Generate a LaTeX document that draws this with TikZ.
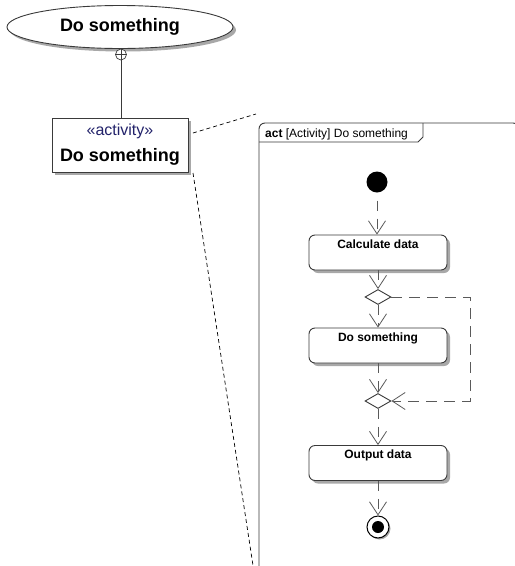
\documentclass[tikz,border=0pt]{standalone}
\usepackage{fontspec}
\setmainfont{Liberation Sans}
\usetikzlibrary{shapes.geometric,arrows.meta,shadows}
\definecolor{edge}{HTML}{3A3A3A}
\definecolor{conn}{HTML}{5A5A5A}
\definecolor{stereo}{HTML}{22226A}
\definecolor{shadowgray}{HTML}{A8A8A8}
\tikzset{
  shade/.style={drop shadow={shadow xshift=3pt,shadow yshift=-3pt,fill=shadowgray,opacity=1}},
  usecase/.style={ellipse, draw=edge, line width=0.9pt, fill=white, shade,
    minimum width=226pt, minimum height=43pt, inner sep=0pt,
    font=\fontsize{18}{20}\selectfont\bfseries},
  classbox/.style={rectangle, draw=edge, line width=1pt, fill=white, shade,
    minimum width=136pt, minimum height=54pt, align=center, inner sep=0pt,
    font=\fontsize{18}{26}\selectfont},
  owner/.style={circle, draw=edge, line width=0.7pt, fill=white, minimum size=11pt, inner sep=0pt,
    path picture={\draw[edge, line width=0.7pt]
      (path picture bounding box.north) -- (path picture bounding box.south)
      (path picture bounding box.west) -- (path picture bounding box.east);}},
  actbox/.style={rectangle, rounded corners=6pt, draw=edge, line width=0.9pt, fill=white, shade,
    minimum width=138pt, inner xsep=0pt, inner ysep=0pt, text height=13pt, text depth=22pt,
    font=\fontsize{12}{14}\selectfont\bfseries},
  choice/.style={diamond, draw=edge, line width=0.9pt, fill=white,
    minimum width=26pt, minimum height=15pt, inner sep=0pt},
  initnode/.style={circle, fill=black, minimum size=21pt, inner sep=0pt},
  finalnode/.style={circle, draw=black, line width=1pt, fill=white, minimum size=22pt, inner sep=0pt,
    drop shadow={shadow xshift=1.5pt,shadow yshift=-1.5pt,fill=shadowgray,opacity=1},
    path picture={\fill[black] (path picture bounding box.center) circle (6pt);}},
  flow/.style={draw=conn, line width=0.8pt, dash pattern=on 10pt off 8pt,
    -{Straight Barb[length=13pt,width=17pt,line width=0.8pt]}},
  zoomline/.style={draw=black, line width=0.7pt, dash pattern=on 4pt off 3pt},
  framepath/.style={draw=edge, line width=0.9pt},
}
\begin{document}
\begin{tikzpicture}[x=1pt,y=-1pt]
  \useasboundingbox (0,0) rectangle (515,566);
  \clip (0,0) rectangle (515,566);
  \fill[white] (0,0) rectangle (515,566);

  % left part
  \node[usecase] (uc) at (120,27) {Do something};
  \node[owner] (own) at (121,54.5) {};
  \node[classbox] (cls) at (120,145)
    {{\fontsize{16}{26}\selectfont\color{stereo}«activity»}\\{\bfseries Do something}};
  \draw[edge, line width=0.8pt] (own.south) -- (cls.north -| own.south);

  % frame
  \draw[framepath, rounded corners=6pt] (259,580) -- (259,123) -- (519,123) -- (519,580);
  \draw[framepath] (259,142) -- (418,142) -- (423,137) -- (423,123);
  \node[anchor=base west, inner sep=0pt, font=\fontsize{12}{14}\selectfont] (tab) at (265,137)
    {\textbf{act} [Activity] Do something};

  % zoom lines
  \coordinate (z1) at (193,133);
  \coordinate (z2) at (256,114);
  \coordinate (z3) at (193,173);
  \coordinate (z4) at (254,572);
  \draw[zoomline] (z1) -- (z2);
  \draw[zoomline] (z3) -- (z4);

  % activity
  \node[initnode] (init) at (377,182) {};
  \node[actbox] (calc) at (378,252.5) {Calculate data};
  \node[choice] (dec) at (378,297) {};
  \node[actbox] (dos) at (378,345.5) {Do something};
  \node[choice] (mrg) at (378,401) {};
  \node[actbox] (out) at (378,463) {Output data};
  \node[finalnode] (fin) at (378,527) {};

  \draw[flow, dash phase=10pt] (init) -- (calc.north -| init);
  \draw[flow] (calc) -- (dec);
  \draw[flow] (dec) -- (dos);
  \draw[flow] (dos) -- (mrg);
  \draw[flow] (mrg) -- (out);
  \draw[flow] (out) -- (fin);
  \coordinate (lt) at (470,297);
  \coordinate (lb) at (470,401);
  \draw[flow, dash pattern=on 11pt off 7pt] (dec.east) -- (lt) -- (lb) -- (mrg.east);
\end{tikzpicture}
\end{document}
